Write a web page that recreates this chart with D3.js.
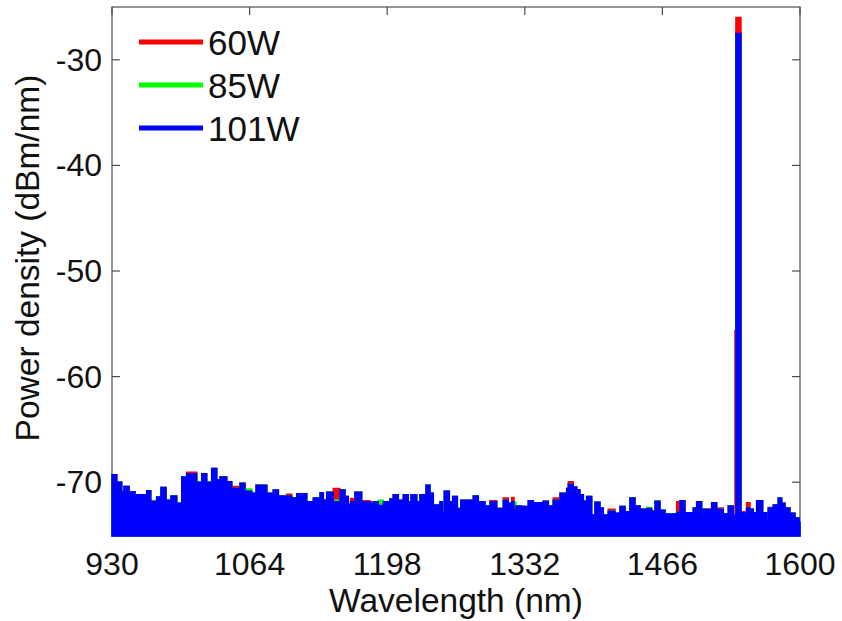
<!DOCTYPE html>
<html>
<head>
<meta charset="utf-8">
<script src="https://cdn.jsdelivr.net/npm/d3@7"></script>
<style>
  body { margin: 0; background: #fff; }
  text { font-family: Arial, "Liberation Sans", sans-serif; fill: #111; }
</style>
</head>
<body>
<div id="chart"></div>
<script>
// spectrum envelope (step starts in nm)
const wavelengths = [
  930, 934.6, 939.4, 941.7, 946.6, 952.4, 963.8, 967.7, 973.5, 977.7,
  982.6, 987.5, 993, 997.9, 1002.7, 1012.5, 1017.4, 1022.2, 1027.1, 1032,
  1035.2, 1041.7, 1046.6, 1054.7, 1059.5, 1066, 1070.3, 1080.7, 1087.1, 1092,
  1100, 1105, 1109.9, 1119.6, 1126.1, 1132.6, 1135.8, 1139.1, 1145.5, 1152,
  1156.9, 1160.1, 1162.4, 1166.6, 1173.1, 1181.2, 1184.5, 1189.3, 1194.2, 1200.7,
  1203.9, 1208.8, 1213.7, 1218.5, 1221.2, 1226.7, 1229.9, 1235.8, 1239.7, 1242.9,
  1249.4, 1251.8, 1253.6, 1258.5, 1261.8, 1266.3, 1269.6, 1281.9, 1286.7, 1293.2,
  1298.1, 1304.6, 1311.1, 1315.9, 1319.2, 1321.5, 1323.4, 1329, 1335.4, 1340.3,
  1350, 1354.9, 1359.7, 1366.3, 1372.8, 1374.4, 1379.2, 1382.5, 1385.7, 1389,
  1392.2, 1397.1, 1400.3, 1405.2, 1408.4, 1413.3, 1419.8, 1424.7, 1429.6, 1434.4,
  1439.3, 1444.2, 1450.7, 1455.5, 1458.8, 1463.6, 1468.5, 1479.9, 1483.1, 1488,
  1496.1, 1499.4, 1504.2, 1505.8, 1514, 1518.8, 1525.3, 1530.2, 1535, 1536.7,
  1537.6, 1542.5, 1546.4, 1548, 1551.3, 1554.5, 1557.8, 1563.6, 1567.5, 1569.1,
  1574, 1578.8, 1582.1, 1585.4, 1590.2, 1595.1, 1599.3, 1600
];

const power60 = [
  -69.3, -70.0, -70.9, -70.4, -70.9, -71.2, -70.8, -71.8, -71.4, -70.5,
  -71.7, -71.3, -72.0, -69.5, -69.05, -70.0, -69.2, -70.0, -68.7, -69.8,
  -69.5, -69.95, -70.4, -70.1, -70.85, -71.05, -70.3, -71.05, -70.75, -71.3,
  -71.15, -71.5, -71.1, -71.85, -71.5, -71.0, -71.7, -70.95, -70.6, -70.75,
  -71.35, -72.1, -71.55, -70.95, -71.75, -71.85, -71.85, -72.2, -71.85, -71.6,
  -71.2, -71.7, -71.2, -71.85, -71.2, -71.85, -71.2, -70.3, -71.05, -72.15,
  -71.85, -72.9, -70.85, -71.85, -71.35, -72.5, -71.7, -71.3, -71.85, -72.25,
  -71.75, -72.5, -71.5, -72.0, -71.45, -72.6, -72.25, -72.3, -71.75, -71.95,
  -71.8, -72.25, -71.5, -71.05, -70.6, -69.95, -70.45, -70.75, -71.2, -71.8,
  -71.35, -73.1, -71.9, -72.45, -73.1, -72.55, -72.95, -72.3, -72.8, -71.5,
  -72.25, -72.55, -72.5, -72.75, -71.8, -72.65, -73.0, -71.85, -71.75, -72.9,
  -72.45, -71.85, -72.6, -72.55, -71.95, -72.45, -73.0, -72.25, -73.1, -55.6,
  -26.0, -72.8, -73.2, -71.95, -72.55, -72.9, -71.75, -72.9, -73.5, -72.4,
  -72.15, -71.5, -72.0, -72.45, -72.95, -73.4, -73.85, -73.85
];

const power85 = [
  -69.3, -70.0, -70.9, -70.4, -70.9, -71.2, -70.8, -71.8, -71.4, -70.5,
  -71.7, -71.3, -72.0, -69.5, -69.2, -70.0, -69.2, -70.0, -68.7, -69.8,
  -69.5, -69.95, -70.6, -70.1, -70.65, -71.05, -70.3, -71.05, -70.75, -71.3,
  -71.3, -71.5, -71.1, -71.85, -71.5, -71.0, -71.7, -70.95, -71.7, -70.75,
  -71.35, -72.1, -71.85, -70.95, -71.85, -72.0, -71.85, -71.7, -71.85, -71.6,
  -71.2, -71.7, -71.2, -71.85, -71.2, -71.85, -71.2, -70.3, -71.05, -72.15,
  -71.85, -72.05, -70.85, -71.85, -71.35, -72.5, -71.7, -71.3, -71.85, -72.25,
  -71.85, -72.5, -71.7, -72.0, -71.85, -71.9, -72.25, -72.3, -71.75, -71.95,
  -71.8, -72.25, -71.7, -71.05, -70.6, -70.2, -70.45, -70.75, -71.2, -71.8,
  -71.35, -73.1, -71.9, -72.45, -73.1, -72.75, -72.95, -72.3, -72.8, -71.5,
  -72.25, -72.55, -72.4, -72.75, -71.8, -72.65, -73.0, -72.85, -71.75, -72.9,
  -72.45, -71.85, -73.4, -72.55, -71.95, -72.55, -73.0, -72.25, -73.1, -73.1,
  -27.8, -72.9, -73.2, -72.45, -72.55, -72.9, -71.75, -72.9, -72.95, -72.45,
  -72.15, -71.5, -72.0, -72.45, -72.95, -73.4, -73.85, -73.85
];

const power101 = [
  -69.3, -70.0, -70.9, -70.4, -70.9, -71.2, -70.8, -71.8, -71.4, -70.5,
  -71.7, -71.3, -72.0, -69.5, -69.2, -70.0, -69.2, -70.0, -68.7, -69.8,
  -69.5, -69.95, -70.6, -70.1, -70.85, -71.05, -70.3, -71.05, -70.75, -71.3,
  -71.3, -71.5, -71.1, -71.85, -71.5, -71.0, -71.7, -70.95, -71.85, -70.75,
  -71.35, -72.1, -71.85, -70.95, -71.85, -72.0, -71.85, -72.2, -71.85, -71.6,
  -71.2, -71.7, -71.2, -71.85, -71.2, -71.85, -71.2, -70.3, -71.05, -72.15,
  -71.85, -72.9, -70.85, -71.85, -71.35, -72.5, -71.7, -71.3, -71.85, -72.25,
  -71.85, -72.5, -71.7, -72.0, -71.85, -72.6, -72.25, -72.3, -71.75, -71.95,
  -71.8, -72.25, -71.7, -71.05, -70.6, -70.2, -70.45, -70.75, -71.2, -71.8,
  -71.35, -73.1, -71.9, -72.45, -73.1, -72.75, -72.95, -72.3, -72.8, -71.5,
  -72.25, -72.55, -72.5, -72.75, -71.8, -72.65, -73.0, -72.85, -71.75, -72.9,
  -72.45, -71.85, -73.4, -72.55, -71.95, -72.55, -73.0, -72.25, -73.1, -73.1,
  -27.5, -72.9, -73.2, -72.45, -72.55, -72.9, -71.75, -72.9, -73.5, -72.45,
  -72.15, -71.5, -72.0, -72.45, -72.95, -73.4, -73.85, -73.85
];

const seriesNames = ["60W", "85W", "101W"];
const seriesColors = ["#ff0000", "#00ff00", "#0000ff"];
const xTicks = [930, 1064, 1198, 1332, 1466, 1600];
const yTicks = [-70, -60, -50, -40, -30];

const size = {width: 842, height: 621};
const plot = {left: 112, right: 800, top: 7, bottom: 535};

const svg = d3.select("#chart")
  .append("svg")
  .attr("width", size.width)
  .attr("height", size.height);

const x = d3.scaleLinear().domain([930, 1600]).range([plot.left, plot.right]);
const y = d3.scaleLinear().domain([-75, -25]).range([plot.bottom, plot.top]);

const axisColor = "#4d4d4d";

// box
svg.append("rect")
  .attr("x", plot.left)
  .attr("y", plot.top)
  .attr("width", plot.right - plot.left)
  .attr("height", plot.bottom - plot.top)
  .attr("fill", "none")
  .attr("stroke", axisColor)
  .attr("stroke-width", 1.2);

// inward ticks, matlab style
const tickLen = 8;
const ticks = svg.append("g").attr("stroke", axisColor).attr("stroke-width", 1.2);
xTicks.forEach(t => {
  ticks.append("line").attr("x1", x(t)).attr("x2", x(t)).attr("y1", plot.top).attr("y2", plot.top + tickLen);
  ticks.append("line").attr("x1", x(t)).attr("x2", x(t)).attr("y1", plot.bottom).attr("y2", plot.bottom - tickLen);
});
yTicks.forEach(t => {
  ticks.append("line").attr("x1", plot.left).attr("x2", plot.left + tickLen).attr("y1", y(t)).attr("y2", y(t));
  ticks.append("line").attr("x1", plot.right).attr("x2", plot.right - tickLen).attr("y1", y(t)).attr("y2", y(t));
});

// spectra: low power first so the higher ones sit on top
const allSeries = [power60, power85, power101];
const area = d3.area()
  .curve(d3.curveStepAfter)
  .x(d => x(d[0]))
  .y0(y(-75) + 1)
  .y1(d => y(d[1]));

allSeries.forEach((values, i) => {
  const points = wavelengths.map((w, j) => [w, values[j]]);
  svg.append("path")
    .datum(points)
    .attr("d", area)
    .attr("fill", seriesColors[i])
    .attr("stroke", seriesColors[i])
    .attr("stroke-width", 1.5)
    .attr("stroke-linejoin", "miter");
});

// tick labels
svg.append("g").selectAll("text")
  .data(xTicks)
  .join("text")
  .attr("x", d => x(d))
  .attr("y", 575)
  .attr("text-anchor", "middle")
  .attr("font-size", 32)
  .text(d => d);

svg.append("g").selectAll("text")
  .data(yTicks)
  .join("text")
  .attr("x", 102)
  .attr("y", d => y(d) + 11)
  .attr("text-anchor", "end")
  .attr("font-size", 32)
  .text(d => d);

// axis titles
svg.append("text")
  .attr("x", (plot.left + plot.right) / 2)
  .attr("y", 612)
  .attr("text-anchor", "middle")
  .attr("font-size", 33.5)
  .text("Wavelength (nm)");

svg.append("text")
  .attr("transform", "translate(39,258) rotate(-90)")
  .attr("text-anchor", "middle")
  .attr("font-size", 33.5)
  .text("Power density (dBm/nm)");

// legend
const legend = svg.append("g");
seriesNames.forEach((name, i) => {
  const ly = 42 + i * 43;
  legend.append("line")
    .attr("x1", 139).attr("x2", 203)
    .attr("y1", ly).attr("y2", ly)
    .attr("stroke", seriesColors[i])
    .attr("stroke-width", 5);
  legend.append("text")
    .attr("x", 208)
    .attr("y", ly + 12.5)
    .attr("font-size", 35)
    .text(name);
});
</script>
</body>
</html>
